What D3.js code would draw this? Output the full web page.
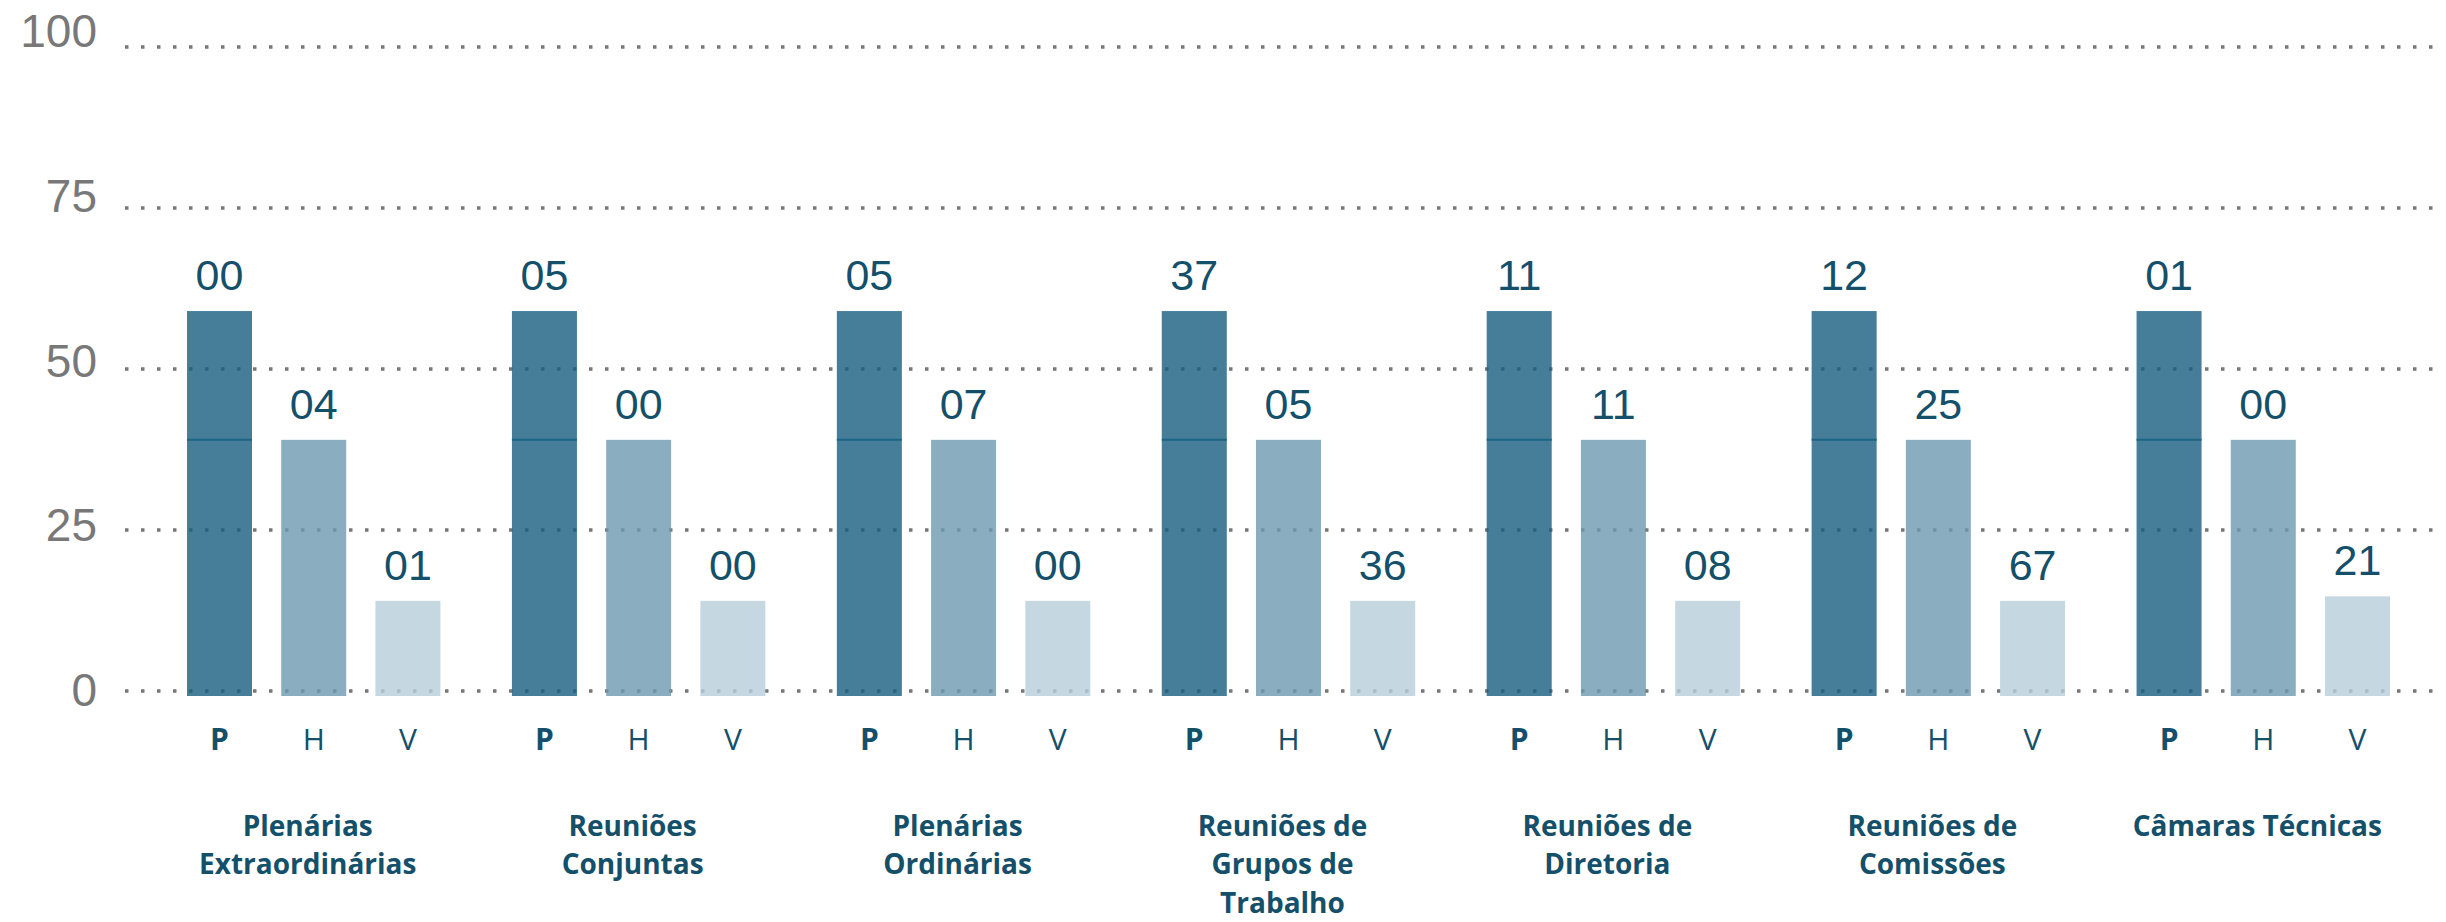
<!DOCTYPE html>
<html>
<head>
<meta charset="utf-8">
<script src="https://cdn.jsdelivr.net/npm/d3@7"></script>
<style>
  body { margin: 0; background: #fff; }
</style>
</head>
<body>
<script>
// categories and labels
const categories = [
  "Plenárias Extraordinárias",
  "Reuniões Conjuntas",
  "Plenárias Ordinárias",
  "Reuniões de Grupos de Trabalho",
  "Reuniões de Diretoria",
  "Reuniões de Comissões",
  "Câmaras Técnicas",
];
const categoryLines = [
  ["Plenárias", "Extraordinárias"],
  ["Reuniões", "Conjuntas"],
  ["Plenárias", "Ordinárias"],
  ["Reuniões de", "Grupos de", "Trabalho"],
  ["Reuniões de", "Diretoria"],
  ["Reuniões de", "Comissões"],
  ["Câmaras Técnicas"],
];
const series = ["P", "H", "V"];

// bar heights
const pHeights = [59, 59, 59, 59, 59, 59, 59];
const hHeights = [39, 39, 39, 39, 39, 39, 39];
const vHeights = [14, 14, 14, 14, 14, 14, 14.7];

// numbers printed above the bars
const pLabels = ["00", "05", "05", "37", "11", "12", "01"];
const hLabels = ["04", "00", "07", "05", "11", "25", "00"];
const vLabels = ["01", "00", "00", "36", "08", "67", "21"];

const yTicks = [0, 25, 50, 75, 100];

const w = 2446;
const h = 922;

const colors = { P: "#185e81", H: "#6d9ab0", V: "#b6ced9" };
const textColor = "#14506a";

const svg = d3.select("body").append("svg").attr("width", w).attr("height", h);

const x0 = d3.scaleBand().domain(categories).range([187, 2390]).paddingInner(0.22);
const x1 = d3.scaleBand().domain(series).range([0, x0.bandwidth()]).paddingInner(0.31);
const y = d3.scaleLinear().domain([0, 100]).range([691, 47]);
const yLabel = d3.scaleLinear().domain([0, 100]).range([690, 31]);

const rows = categories.map((c, i) => ({
  cat: c,
  lines: categoryLines[i],
  bars: [
    { key: "P", v: pHeights[i], label: pLabels[i] },
    { key: "H", v: hHeights[i], label: hLabels[i] },
    { key: "V", v: vHeights[i], label: vLabels[i] },
  ],
}));

// dotted grid lines
svg
  .selectAll("line.grid")
  .data(yTicks)
  .enter()
  .append("line")
  .attr("class", "grid")
  .attr("x1", 125)
  .attr("x2", 2440)
  .attr("y1", (d) => y(d))
  .attr("y2", (d) => y(d))
  .attr("stroke", "#777")
  .attr("stroke-width", 3.5)
  .attr("stroke-dasharray", "3.5 12.5");

svg
  .selectAll("text.tick")
  .data(yTicks)
  .enter()
  .append("text")
  .attr("class", "tick")
  .attr("x", 97)
  .attr("y", (d) => yLabel(d) + 16)
  .attr("text-anchor", "end")
  .attr("font-family", "Liberation Sans, Arial, sans-serif")
  .attr("font-size", 46)
  .attr("fill", "#787878")
  .text((d) => d);

const groups = svg
  .selectAll("g.group")
  .data(rows)
  .enter()
  .append("g")
  .attr("class", "group")
  .attr("transform", (d) => `translate(${x0(d.cat)},0)`);

groups
  .selectAll("rect")
  .data((d) => d.bars)
  .enter()
  .append("rect")
  .attr("x", (d) => x1(d.key))
  .attr("y", (d) => y(d.v))
  .attr("width", x1.bandwidth())
  .attr("height", (d) => y(0) - y(d.v) + 5)
  .attr("fill", (d) => colors[d.key])
  .attr("opacity", 0.8);

// thin line inside the P bar at the H height
groups
  .append("line")
  .attr("x1", x1("P"))
  .attr("x2", x1("P") + x1.bandwidth())
  .attr("y1", (d) => y(d.bars[1].v))
  .attr("y2", (d) => y(d.bars[1].v))
  .attr("stroke", "#1d6486")
  .attr("stroke-width", 2);

groups
  .selectAll("text.value")
  .data((d) => d.bars)
  .enter()
  .append("text")
  .attr("class", "value")
  .attr("x", (d) => x1(d.key) + x1.bandwidth() / 2)
  .attr("y", (d) => y(d.v) - 21)
  .attr("text-anchor", "middle")
  .attr("font-family", "Liberation Sans, Arial, sans-serif")
  .attr("font-size", 43)
  .attr("fill", textColor)
  .text((d) => d.label);

groups
  .selectAll("text.key")
  .data((d) => d.bars)
  .enter()
  .append("text")
  .attr("class", "key")
  .attr("x", (d) => x1(d.key) + x1.bandwidth() / 2)
  .attr("y", 750)
  .attr("text-anchor", "middle")
  .attr("font-family", "Open Sans, sans-serif")
  .attr("font-weight", (d) => (d.key === "P" ? 700 : 400))
  .attr("font-size", 30)
  .attr("fill", textColor)
  .text((d) => d.key);

groups
  .append("text")
  .attr("class", "cat")
  .attr("text-anchor", "middle")
  .attr("font-family", "Open Sans, sans-serif")
  .attr("font-weight", 700)
  .attr("font-size", 28)
  .attr("fill", textColor)
  .selectAll("tspan")
  .data((d) => d.lines)
  .enter()
  .append("tspan")
  .attr("x", x0.bandwidth() / 2 - 6)
  .attr("y", (d, i) => 836 + i * 38.3)
  .text((d) => d);
</script>
</body>
</html>
